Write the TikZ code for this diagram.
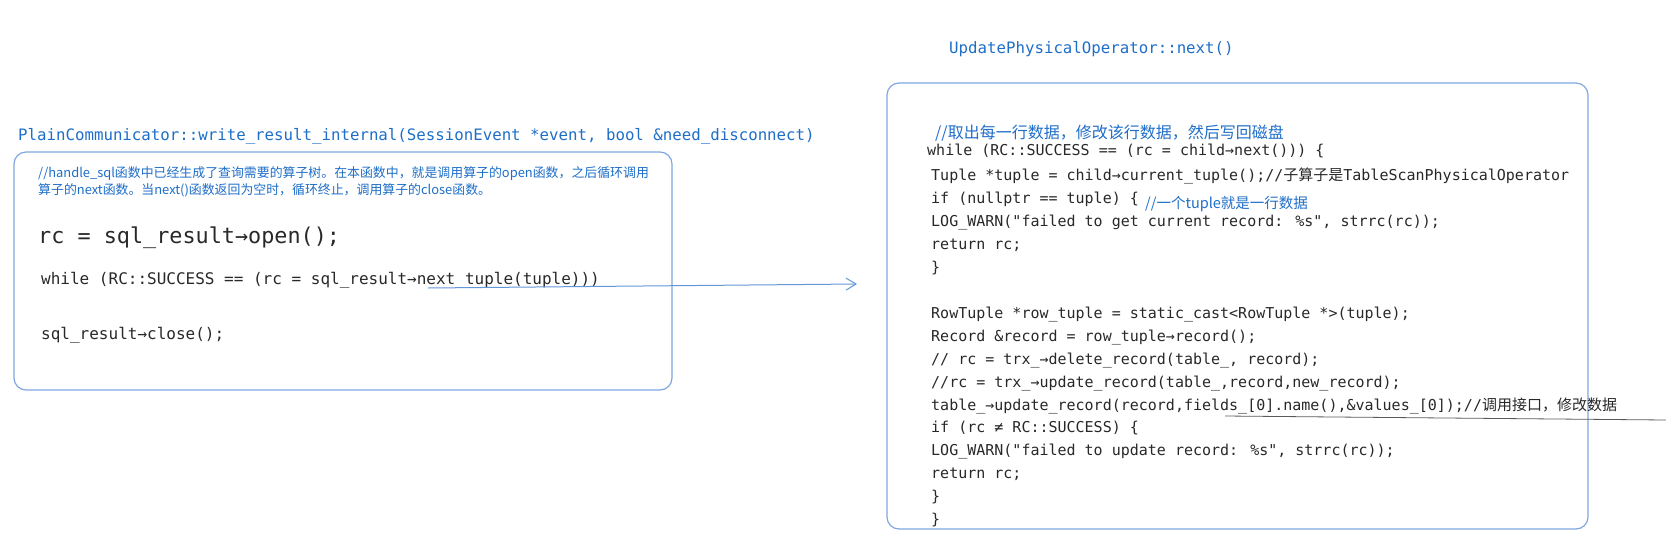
\documentclass[tikz,border=0pt]{standalone}
\usepackage{fontspec}
\setmainfont{DejaVu Sans}
\newfontfamily\codefnt{DejaVu Sans Mono}
\newfontfamily\cjk{Noto Sans CJK SC}
\usetikzlibrary{arrows.meta}
\definecolor{titleblue}{RGB}{30,110,200}
\definecolor{boxblue}{RGB}{126,166,224}
\definecolor{arrowblue}{RGB}{100,150,215}
\definecolor{codegray}{RGB}{40,40,40}
\definecolor{linegray}{RGB}{90,90,90}
\tikzset{
  box/.style={draw=boxblue, line width=1.2pt, rounded corners=12pt},
  titletext/.style={anchor=base west, inner sep=0pt, text=titleblue, font=\codefnt\fontsize{15.75}{16}\selectfont},
  codeline/.style={anchor=base west, inner sep=0pt, text=codegray, font=\codefnt\fontsize{15}{16}\selectfont},
  bigcode/.style={anchor=base west, inner sep=0pt, text=codegray, font=\codefnt\fontsize{21.8}{22}\selectfont},
  midcode/.style={anchor=base west, inner sep=0pt, text=codegray, font=\codefnt\fontsize{16}{17}\selectfont},
  note/.style={anchor=base west, inner sep=0pt, text=titleblue, font=\cjk\fontsize{16}{18}\selectfont},
  smallnote/.style={anchor=base west, inner sep=0pt, text=titleblue, align=left, font=\cjk\fontsize{12.9}{17}\selectfont},
  flow/.style={draw=arrowblue, line width=1pt, -{Straight Barb[length=10pt,width=12pt]}},
  thinline/.style={draw=linegray, line width=0.8pt},
}
\begin{document}
\begin{tikzpicture}[x=1pt,y=-1pt]
\useasboundingbox (0,0) rectangle (1666,555);

% left part
\node[titletext] (lt) at (18,140) {PlainCommunicator::write\_result\_internal(SessionEvent *event, bool \&need\_disconnect)};
\draw[box] (14,152) rectangle (672,390);
\node[smallnote] (lc) at (38,194) {//handle\_sql函数中已经生成了查询需要的算子树。在本函数中，就是调用算子的open函数，之后循环调用\\算子的next函数。当next()函数返回为空时，循环终止，调用算子的close函数。};
\node[bigcode] (lopen) at (38,243) {rc = sql\_result→open();};
\node[midcode] (lwhile) at (41,284) {while (RC::SUCCESS == (rc = sql\_result→next\_tuple(tuple)))};
\node[midcode] (lclose) at (41,339) {sql\_result→close();};

% right part
\node[titletext] (rt) at (949,53) {UpdatePhysicalOperator::next()};
\draw[box] (887,83) rectangle (1588,529);
\node[note] (rc1) at (935,138) {//取出每一行数据，修改该行数据，然后写回磁盘};
\node[codeline] (r1) at (927,155) {while (RC::SUCCESS == (rc = child→next())) \{};
\node[codeline] (r2) at (931,180) {Tuple *tuple = child→current\_tuple();//{\cjk 子算子是}TableScanPhysicalOperator};
\node[codeline] (r3) at (931,203) {if (nullptr == tuple) \{};
\node[note, font=\cjk\fontsize{14.5}{16}\selectfont] (rc2) at (1145,208) {//一个tuple就是一行数据};
\node[codeline] (r4) at (931,226) {LOG\_WARN("failed to get current record: \%s", strrc(rc));};
\node[codeline] (r5) at (931,249) {return rc;};
\node[codeline] (r6) at (931,272) {\}};
\node[codeline] (r7) at (931,318) {RowTuple *row\_tuple = static\_cast<RowTuple *>(tuple);};
\node[codeline] (r8) at (931,341) {Record \&record = row\_tuple→record();};
\node[codeline] (r9) at (931,364) {// rc = trx\_→delete\_record(table\_, record);};
\node[codeline] (r10) at (931,387) {//rc = trx\_→update\_record(table\_,record,new\_record);};
\node[codeline] (r11) at (931,410) {table\_→update\_record(record,fields\_[0].name(),\&values\_[0]);//{\cjk 调用接口，修改数据}};
\node[codeline] (r12) at (931,432.8) {if (rc ≠ RC::SUCCESS) \{};
\node[codeline] (r13) at (931,455.6) {LOG\_WARN("failed to update record: \%s", strrc(rc));};
\node[codeline] (r14) at (931,478.4) {return rc;};
\node[codeline] (r15) at (931,501.2) {\}};
\node[codeline] (r16) at (931,524) {\}};

% connectors
\coordinate (a0) at (428,288);
\coordinate (a1) at (857,284);
\draw[flow] (a0) -- (a1);
\coordinate (b0) at (1225,416);
\coordinate (b1) at (1666,420);
\draw[thinline] (b0) -- (b1);
\end{tikzpicture}
\end{document}
